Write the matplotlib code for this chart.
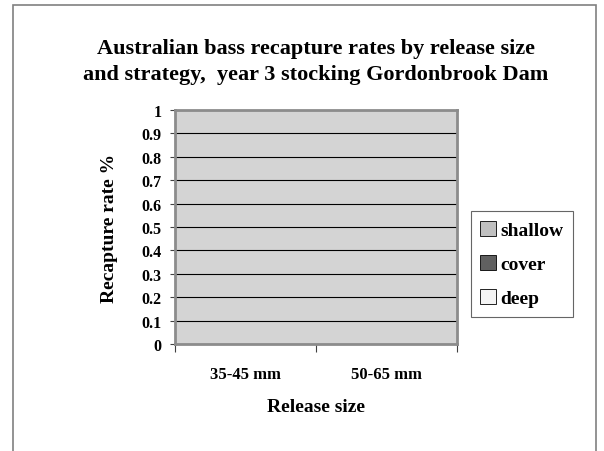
import numpy as np
import matplotlib.pyplot as plt
from matplotlib.patches import Rectangle

# recapture rates per release size and strategy
sizes = ['35-45 mm', '50-65 mm']
shallow = [0.0, 0.0]
cover = [0.0, 0.0]
deep = [0.0, 0.0]
strategies = ['shallow', 'cover', 'deep']
colors = ['#c0c0c0', '#606060', '#f4f4f4']
yticks = [0, 0.1, 0.2, 0.3, 0.4, 0.5, 0.6, 0.7, 0.8, 0.9, 1]
ytick_labels = ['0', '0.1', '0.2', '0.3', '0.4', '0.5', '0.6', '0.7', '0.8', '0.9', '1']

plt.rcParams['font.family'] = ['Liberation Serif', 'DejaVu Serif']
plt.rcParams['font.weight'] = 'bold'

W, H = 604, 452
fig = plt.figure(figsize=(W / 100, H / 100), dpi=100)
fig.patch.set_facecolor('white')

# outer chart border (bottom edge runs off the page)
fig.add_artist(Rectangle((13 / W, -0.05), (596 - 13) / W, 1.05 - 6 / H,
                         transform=fig.transFigure, fill=False,
                         edgecolor='#808080', linewidth=1.2))

left, right, top, bottom = 175, 457, 111, 345
ax = fig.add_axes([left / W, 1 - bottom / H, (right - left) / W, (bottom - top) / H])
ax.set_facecolor('#d4d4d4')

x = np.arange(len(sizes))
width = 0.2
bars = []
for i, (vals, c) in enumerate(zip([shallow, cover, deep], colors)):
    b = ax.bar(x + (i - 1) * width, vals, width, color=c, edgecolor='black',
               linewidth=0.6, label=strategies[i])
    bars.append(b)

ax.set_xlim(-0.5, len(sizes) - 0.5)
ax.set_ylim(0, 1)
ax.set_yticks(yticks)
ax.set_yticklabels(ytick_labels, fontsize=11.5, fontweight='bold')
ax.yaxis.grid(True, color='black', linewidth=0.8)
ax.set_axisbelow(True)

# category labels centred, ticks at boundaries
ax.set_xticks(x)
ax.set_xticklabels(sizes, fontsize=12, fontweight='bold')
ax.tick_params(axis='x', length=0, pad=15.5)
ax.set_xticks(np.arange(len(sizes) + 1) - 0.5, minor=True)
ax.tick_params(axis='x', which='minor', length=6, width=0.8, color='#404040')
ax.tick_params(axis='y', length=3.5, width=0.8, color='#404040', pad=6)

for s in ax.spines.values():
    s.set_color('#8c8c8c')
    s.set_linewidth(2)

ax.set_ylabel('Recapture rate %', fontsize=14, fontweight='bold')
ax.yaxis.set_label_coords((110 - left) / (right - left), 0.5)
ax.set_xlabel('Release size', fontsize=14, fontweight='bold')
ax.xaxis.set_label_coords(0.5, -(408 - bottom) / (bottom - top))
ax.xaxis.label.set_va('center')
ax.yaxis.label.set_va('center')

fig.text(316 / W, 1 - 62 / H,
         'Australian bass recapture rates by release size\nand strategy,  year 3 stocking Gordonbrook Dam',
         ha='center', va='center', fontsize=16, fontweight='bold', linespacing=1.4)

leg = fig.legend(handles=[b[0] for b in bars], labels=strategies,
                 loc='center', bbox_to_anchor=(522 / W, 1 - 265 / H),
                 fontsize=14, frameon=True, fancybox=False, edgecolor='#404040',
                 handlelength=0.8, handleheight=0.8, handletextpad=0.25,
                 labelspacing=0.82, borderpad=0.5, borderaxespad=0)
leg.get_frame().set_linewidth(0.8)
for t in leg.get_texts():
    t.set_fontweight('bold')

fig.savefig('out.png', dpi=100)
